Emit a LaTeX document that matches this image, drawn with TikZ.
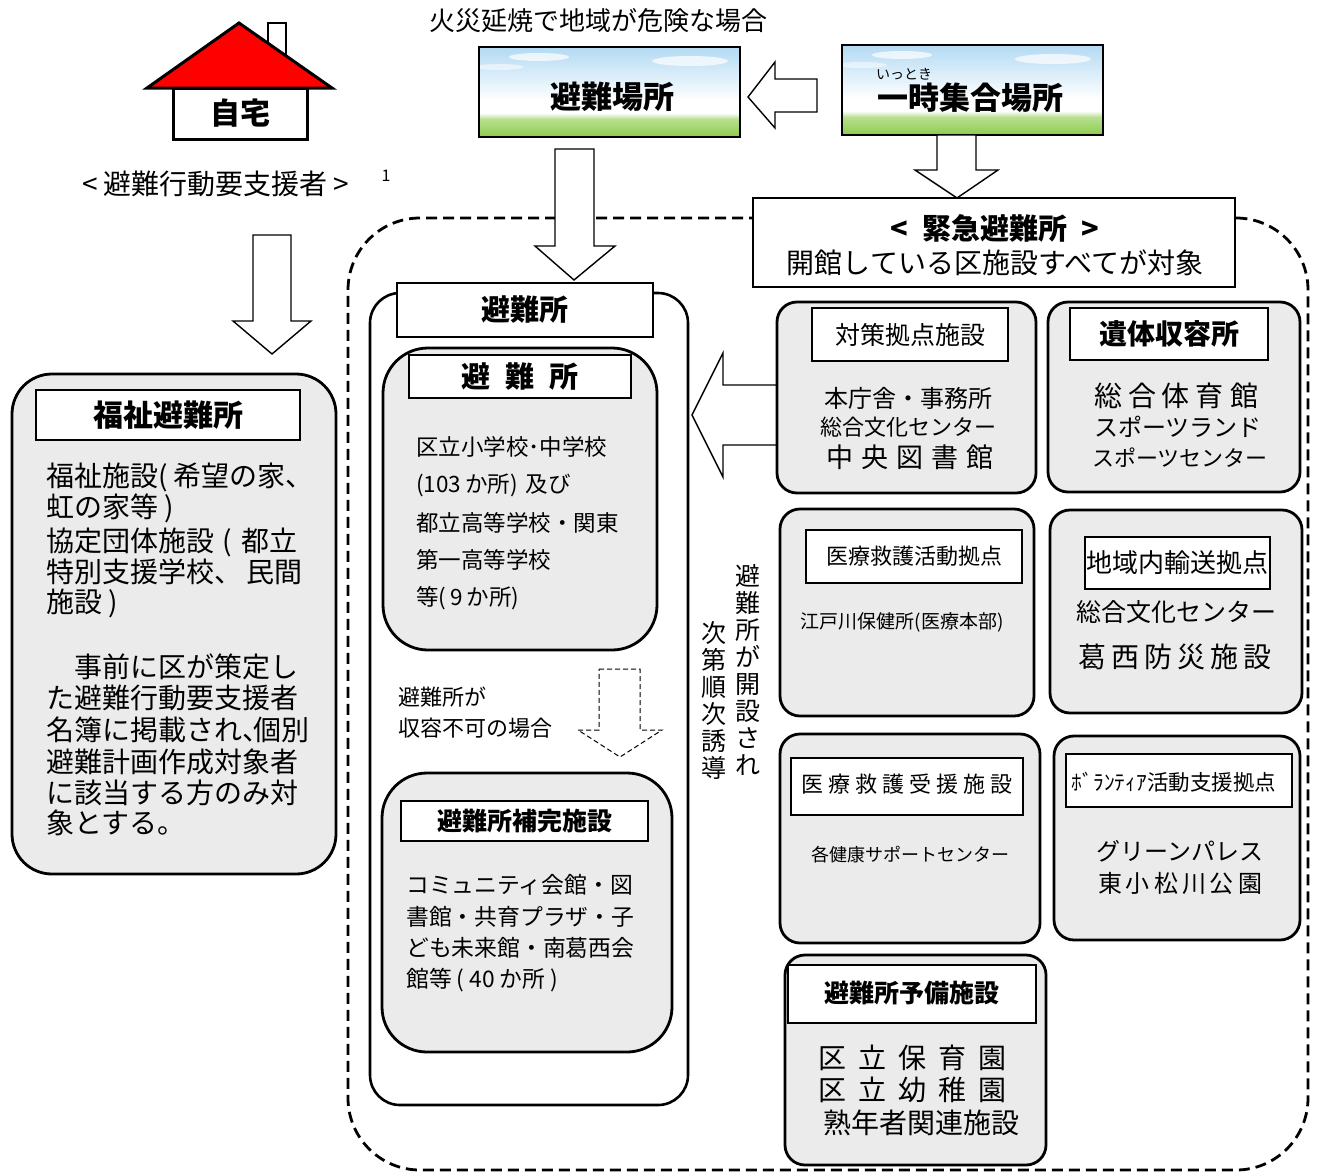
\documentclass[tikz,border=0pt]{standalone}
\usepackage{fontspec}
\setmainfont{Noto Sans CJK JP}
\definecolor{boxgray}{HTML}{EBEBEB}
\definecolor{skyA}{HTML}{B3DAF3}
\definecolor{grassA}{HTML}{B8E090}
\definecolor{grassB}{HTML}{8CCB4E}
\newcommand\fz[1]{\fontsize{#1}{#1}\selectfont}
\newcommand\gp[1]{\hspace{#1pt}}
\newcommand\bx[6]{\node[#2, minimum width={#5-#3}, minimum height={#6-#4}] (#1) at ({(#3+#5)/2},{(#4+#6)/2}) {};}
\newcommand\skybox[5]{%
  \shade[top color=skyA, bottom color=white] (#2,#3) rectangle (#4,{#3+(#5-#3)*0.6});
  \fill[white] (#2,{#3+(#5-#3)*0.6}) rectangle (#4,{#5-22});
  \shade[top color=white, bottom color=grassA] (#2,{#5-24}) rectangle (#4,{#5-18});
  \shade[top color=grassA, bottom color=grassB] (#2,{#5-18}) rectangle (#4,#5);
  \fill[white, opacity=0.7] ({#2+60},{#3+10}) ellipse (30 and 4);
  \fill[white, opacity=0.7] ({#4-50},{#3+14}) ellipse (38 and 5);
  \fill[white, opacity=0.5] ({#2+20},{#3+20}) ellipse (25 and 3);
  \bx{#1}{draw, line width=2pt}{#2}{#3}{#4}{#5}}
\begin{document}
\begin{tikzpicture}[x=1pt,y=-1pt,
  gbox/.style={draw, line width=2.8pt, fill=boxgray, rounded corners=20pt, inner sep=0},
  wbox/.style={draw, line width=2.6pt, fill=white, rounded corners=30pt, inner sep=0},
  tbox/.style={draw, line width=2pt, fill=white, inner sep=0},
  region/.style={draw, line width=2.8pt, dash pattern=on 11pt off 6pt, rounded corners=72pt, inner sep=0},
  harrow/.style={draw, line width=1.4pt, fill=white, line join=miter},
  txt/.style={inner sep=0, anchor=west},
  ctxt/.style={inner sep=0, anchor=center},
]
\useasboundingbox (0,0) rectangle (1317,1173);
\fill[white] (0,0) rectangle (1317,1173);

% dashed region
\bx{region}{region}{348}{218}{1308}{1170}

% house
\draw[line width=2.5pt, fill=white] (268,23) rectangle (286,62);
\draw[line width=3pt, fill=red, line join=miter] (147,88) -- (239,23) -- (332,88) -- cycle;
\bx{home}{tbox, line width=3pt}{173}{88}{307}{139}
\node[ctxt, font=\bfseries\fz{30}] (hometxt) at (home.center) {自宅};

% top texts
\node[ctxt, font=\fz{26}] (fire) at (598,21) {火災延焼で地域が危険な場合};
\node[ctxt, font=\fz{28}] (yobo) at (216,184) {<\gp{6}避難行動要支援者\gp{6}>};
\node[ctxt, font=\fz{16}] (one) at (386,176) {1};

% sky boxes
\skybox{hbasho}{479}{47}{740}{137}
\node[ctxt, font=\bfseries\fz{31}] (hbashot) at (612,97) {避難場所};
\skybox{ittoki}{842}{45}{1103}{135}
\node[ctxt, font=\fz{14}] (ittokir) at (904,74) {いっとき};
\node[ctxt, font=\bfseries\fz{31}] (ittokit) at (970,98) {一時集合場所};

% arrows on top
\draw[harrow] (817,79) -- (775,79) -- (775,62) -- (748,97) -- (775,128) -- (775,112) -- (817,112) -- cycle;
\draw[harrow] (555,149) -- (594,149) -- (594,246) -- (615,246) -- (574,280) -- (535,246) -- (555,246) -- cycle;
\draw[harrow] (937,135) -- (976,135) -- (976,170) -- (998,170) -- (957,198) -- (915,170) -- (937,170) -- cycle;
\draw[harrow] (253,235) -- (291,235) -- (291,321) -- (311,321) -- (272,354) -- (233,321) -- (253,321) -- cycle;

% emergency box
\bx{kinkyu}{tbox, line width=2.6pt}{753}{198}{1235}{287}
\node[ctxt, font=\bfseries\fz{29}] (k1) at (995,228) {<\gp{14}緊急避難所\gp{14}>};
\node[ctxt, font=\fz{28}] (k2) at (995,263) {開館している区施設すべてが対象};

% welfare shelter
\bx{fukushi}{gbox, rounded corners=40pt}{12}{374}{336}{874}
\bx{fukushiT}{tbox}{36}{390}{300}{440}
\node[ctxt, font=\bfseries\fz{30}] (fukushiTt) at (fukushiT.center) {福祉避難所};
\begin{scope}[every node/.style={txt, font=\fz{28}}]
\node (f1) at (46,477) {福祉施設(\gp{6}希望の家、};
\node (f2) at (46,508) {虹の家等\gp{6})};
\node (f3) at (46,542) {協定団体施設\gp{8}(\gp{10}都立};
\node (f4) at (46,572) {特別支援学校、\gp{4}民間};
\node (f5) at (46,603) {施設\gp{6})};
\node (f6) at (46,667) {　事前に区が策定し};
\node (f7) at (46,698) {た避難行動要支援者};
\node (f8) at (46,730) {名簿に掲載され、\hspace{-0.6em}個別};
\node (f9) at (46,762) {避難計画作成対象者};
\node (f10) at (46,793) {に該当する方のみ対};
\node (f11) at (46,823) {象とする。};
\end{scope}

% left arrow into shelter container (drawn before boxes)
\draw[harrow] (780,385) -- (723,385) -- (723,353) -- (692,415) -- (723,477) -- (723,445) -- (780,445);

% shelter container
\bx{hjo}{wbox}{370}{293}{688}{1105}
\bx{hjoT}{tbox, line width=2.6pt}{397}{283}{653}{337}
\node[ctxt, font=\bfseries\fz{29}] (hjoTt) at (hjoT.center) {避難所};
\bx{hjo2}{gbox, rounded corners=45pt}{383}{348}{657}{650}
\bx{hjo2T}{tbox}{409}{355}{631}{398}
\node[ctxt, font=\bfseries\fz{29}] (hjo2Tt) at (520,377) {避\gp{15}難\gp{15}所};
\begin{scope}[every node/.style={txt, font=\fz{22.5}}]
\node (h1) at (416,447) {区立小学校･中学校};
\node (h2) at (416,485) {(103\gp{4}か所)\gp{8}及び};
\node (h3) at (416,523) {都立高等学校・関東};
\node (h4) at (416,560) {第一高等学校};
\node (h5) at (416,598) {等(\gp{4}9\gp{4}か所)};
\end{scope}
\node[txt, font=\fz{22}] (ng1) at (398,697) {避難所が};
\node[txt, font=\fz{22}] (ng2) at (398,728) {収容不可の場合};
\draw[line width=1pt, dash pattern=on 5pt off 3pt, fill=white] (599,669) -- (640,669) -- (640,730) -- (662,730) -- (620,757) -- (578,730) -- (599,730) -- cycle;

\bx{hokan}{gbox, rounded corners=45pt}{382}{773}{672}{1052}
\bx{hokanT}{tbox}{401}{801}{648}{841}
\node[ctxt, font=\bfseries\fz{25}] (hokanTt) at (hokanT.center) {避難所補完施設};
\begin{scope}[every node/.style={txt, font=\fz{22.8}}]
\node (c1) at (406,885) {コミュニティ会館・図};
\node (c2) at (406,917) {書館・共育プラザ・子};
\node (c3) at (406,948) {ども未来館・南葛西会};
\node (c4) at (406,980) {館等\gp{5}(\gp{5}40\gp{5}か所\gp{5})};
\end{scope}

% vertical text
\node[inner sep=0, anchor=north, align=center, font=\fontsize{25}{27}\selectfont] (vt1) at (748,564) {避\\難\\所\\が\\開\\設\\さ\\れ};
\node[inner sep=0, anchor=north, align=center, font=\fontsize{25}{27}\selectfont] (vt2) at (714,621) {次\\第\\順\\次\\誘\\導};

% right boxes
\bx{taisaku}{gbox}{777}{302}{1036}{493}
\bx{taisakuT}{tbox}{812}{308}{1008}{361}
\node[ctxt, font=\fz{25}] (taisakuTt) at (taisakuT.center) {対策拠点施設};
\node[ctxt, font=\fz{24}] (ta1) at (908,398) {本庁舎・事務所};
\node[ctxt, font=\fz{22}] (ta2) at (908,427) {総合文化センター};
\node[ctxt, font=\fz{27}] (ta3) at (910,457) {中\gp{8}央\gp{8}図\gp{8}書\gp{8}館};

\bx{itai}{gbox}{1048}{302}{1300}{492}
\bx{itaiT}{tbox}{1070}{308}{1268}{360}
\node[ctxt, font=\bfseries\fz{28}] (itaiTt) at (itaiT.center) {遺体収容所};
\node[ctxt, font=\fz{28}] (it1) at (1176,396) {総\gp{6}合\gp{6}体\gp{6}育\gp{6}館};
\node[ctxt, font=\fz{24}] (it2) at (1178,427) {スポーツランド};
\node[ctxt, font=\fz{22}] (it3) at (1180,458) {スポーツセンター};

\bx{iryo}{gbox}{780}{509}{1034}{716}
\bx{iryoT}{tbox}{806}{530}{1022}{583}
\node[ctxt, font=\fz{22}] (iryoTt) at (iryoT.center) {医療救護活動拠点};
\node[ctxt, font=\fz{19}] (ir1) at (902,622) {江戸川保健所(医療本部)};

\bx{chiiki}{gbox}{1050}{510}{1302}{713}
\bx{chiikiT}{tbox}{1085}{537}{1270}{589}
\node[ctxt, font=\fz{26}] (chiikiTt) at (chiikiT.center) {地域内輸送拠点};
\node[ctxt, font=\fz{25}] (ch1) at (1176,612) {総合文化センター};
\node[ctxt, font=\fz{28}] (ch2) at (1175,657) {葛\gp{5}西\gp{5}防\gp{5}災\gp{5}施\gp{5}設};

\bx{juen}{gbox}{780}{734}{1040}{943}
\bx{juenT}{tbox}{791}{758}{1023}{815}
\node[ctxt, font=\fz{22}] (juenTt) at (907,784) {医\gp{5}療\gp{5}救\gp{5}護\gp{5}受\gp{5}援\gp{5}施\gp{5}設};
\node[ctxt, font=\fz{18}] (ju1) at (910,855) {各健康サポートセンター};

\bx{vol}{gbox}{1054}{736}{1300}{940}
\bx{volT}{tbox}{1066}{754}{1292}{807}
\node[ctxt, font=\fz{21.5}] (volTt) at (1174,782) {ﾎﾞﾗﾝﾃｨｱ活動支援拠点};
\node[ctxt, font=\fz{24}] (vo1) at (1180,851) {グリーンパレス};
\node[ctxt, font=\fz{24}] (vo2) at (1180,883) {東\gp{4}小\gp{4}松\gp{4}川\gp{4}公\gp{4}園};

\bx{yobi}{gbox}{785}{955}{1046}{1165}
\bx{yobiT}{tbox}{788}{965}{1036}{1023}
\node[ctxt, font=\bfseries\fz{25}] (yobiTt) at (912,993) {避難所予備施設};
\node[txt, font=\fz{28}] (yo1) at (818,1058) {区\gp{12}立\gp{12}保\gp{12}育\gp{12}園};
\node[txt, font=\fz{28}] (yo2) at (818,1090) {区\gp{12}立\gp{12}幼\gp{12}稚\gp{12}園};
\node[txt, font=\fz{28}] (yo3) at (823,1123) {熟年者関連施設};
\end{tikzpicture}
\end{document}
